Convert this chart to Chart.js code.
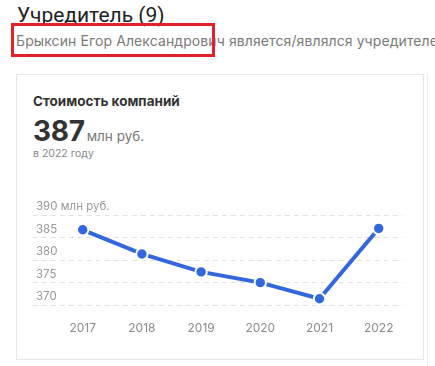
<!DOCTYPE html>
<html lang="ru">
<head>
<meta charset="utf-8">
<script src="https://cdn.jsdelivr.net/npm/chart.js@4/dist/chart.umd.min.js"></script>
<style>
  html, body { margin: 0; padding: 0; background: #fff; }
  body { width: 435px; height: 366px; position: relative; overflow: hidden; font-family: Inter, "Noto Sans", sans-serif; }
  .abs { position: absolute; white-space: nowrap; }
  #heading { left: 17px; top: 3px; font-family: Roboto, sans-serif; font-size: 21px; line-height: 24px; color: #222; }
  #sub { left: 16px; top: 33px; font-size: 14px; line-height: 16px; color: #7a7a7a; letter-spacing: 0.1px; }
  #mark { left: 11px; top: 23px; width: 198px; height: 28px; border: 3px solid #e3212b; }
  #card { left: 16px; top: 74px; width: 406px; height: 284px; border: 1px solid #e6e6e6; background: #fff; }
  #edge { left: 427px; top: 74px; width: 1px; height: 292px; background: #efefef; }
  #title { left: 33px; top: 93px; font-size: 13.5px; line-height: 16px; font-weight: 700; color: #333; }
  #value { left: 33px; top: 116px; line-height: 30px; color: #333; }
  #value b { font-size: 28px; font-weight: 700; letter-spacing: -0.3px; }
  #value span { font-size: 13.5px; color: #777; margin-left: 2px; }
  #year { left: 33px; top: 147px; font-size: 10.5px; line-height: 14px; color: #888; }
  #chart { position: absolute; left: 17px; top: 195px; }
</style>
</head>
<body>
<div class="abs" id="heading">Учредитель (9)</div>
<div class="abs" id="sub">Брыксин Егор Александрович является/являлся учредителем 9 компаний</div>
<div class="abs" id="card"></div>
<div class="abs" id="edge"></div>
<div class="abs" id="mark"></div>
<div class="abs" id="title">Стоимость компаний</div>
<div class="abs" id="value"><b></b><span>млн руб.</span></div>
<div class="abs" id="year"></div>
<canvas id="chart" width="406" height="164"></canvas>
<script>
// Company value by year, million rubles
const years = ['2017', '2018', '2019', '2020', '2021', '2022'];
const values = [386.7, 381.3, 377.3, 374.9, 371.3, 387];
const yTicks = [370, 375, 380, 385, 390];
const unit = 'млн руб.';

const lastIdx = values.length - 1;
document.querySelector('#value b').textContent = Math.round(values[lastIdx]);
document.getElementById('year').textContent = 'в ' + years[lastIdx] + ' году';

// dashed horizontal guides that run a little past the plot area on both sides
const dashedGrid = {
  id: 'dashedGrid',
  beforeDatasetsDraw(chart) {
    const y = chart.scales.y;
    const ctx = chart.ctx;
    const x0 = chart.chartArea.left - 50;
    const x1 = chart.chartArea.right + 24;
    ctx.save();
    ctx.strokeStyle = '#e2e2e2';
    ctx.lineWidth = 1;
    ctx.setLineDash([5, 4]);
    y.ticks.forEach(t => {
      const py = Math.round(y.getPixelForValue(t.value)) + 0.5;
      ctx.beginPath();
      ctx.moveTo(x0, py);
      ctx.lineTo(x1, py);
      ctx.stroke();
    });
    ctx.restore();
  }
};

new Chart(document.getElementById('chart'), {
  type: 'line',
  data: {
    labels: years,
    datasets: [{
      data: values,
      borderColor: '#3466dd',
      borderWidth: 4,
      backgroundColor: '#3466dd',
      pointBackgroundColor: '#3466dd',
      pointBorderColor: '#ffffff',
      pointBorderWidth: 2,
      pointRadius: 5.7,
      tension: 0,
      clip: false
    }]
  },
  options: {
    responsive: false,
    animation: false,
    devicePixelRatio: 1,
    layout: { padding: { left: 19, right: 44.3, top: 20, bottom: 14 } },
    plugins: { legend: { display: false }, tooltip: { enabled: false } },
    scales: {
      x: {
        grid: { display: false },
        border: { display: false },
        ticks: {
          color: '#8a8a8a',
          font: { family: 'Inter', size: 12 },
          padding: 9,
          maxRotation: 0
        }
      },
      y: {
        min: yTicks[0],
        max: yTicks[yTicks.length - 1],
        afterBuildTicks(scale) {
          scale.ticks = yTicks.map(v => ({ value: v }));
        },
        afterFit(scale) {
          scale.width = 46.7;
          // let the top label (with its unit) run into the plot area
          scale._computeLabelArea = () => undefined;
        },
        grid: { display: false },
        border: { display: false },
        ticks: {
          color: '#9a9a9a',
          font: { family: 'Inter', size: 11.5 },
          crossAlign: 'far',
          labelOffset: -8,
          callback(v, i, arr) {
            return i === arr.length - 1 ? v + ' ' + unit : String(v);
          }
        }
      }
    }
  },
  plugins: [dashedGrid]
});
</script>
</body>
</html>
